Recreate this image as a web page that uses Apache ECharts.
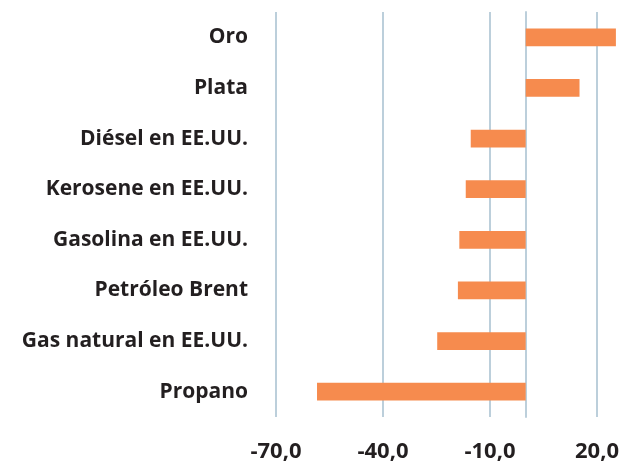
<!DOCTYPE html>
<html>
<head>
<meta charset="utf-8">
<script src="https://cdn.jsdelivr.net/npm/echarts@6/dist/echarts.min.js"></script>
<style>
  html, body { margin: 0; padding: 0; background: #fff; }
  #chart { width: 620px; height: 462px; }
</style>
</head>
<body>
<div id="chart"></div>
<script>
// categorías, de arriba a abajo
const categories = [
  'Oro',
  'Plata',
  'Diésel en EE.UU.',
  'Kerosene en EE.UU.',
  'Gasolina en EE.UU.',
  'Petróleo Brent',
  'Gas natural en EE.UU.',
  'Propano',
]
// variación (%)
const values = [25.3, 15.1, -15.4, -16.8, -18.6, -19.0, -24.8, -58.5]
const xTicks = [-70, -40, -10, 20]

const gridColor = '#bccfdb'
const textColor = '#231f20'
const font = '"Open Sans"'

const chart = echarts.init(document.getElementById('chart'))
chart.setOption({
  animation: false,
  grid: {
    left: 276, right: 23, top: 12, bottom: 45,
    containLabel: false,
    outerBoundsMode: 'none',
  },
  xAxis: {
    type: 'value',
    min: xTicks[0],
    max: xTicks[xTicks.length - 1],
    interval: 30,
    axisLine: { show: false },
    axisTick: { show: false },
    splitLine: { show: true, lineStyle: { color: gridColor, width: 2 } },
    axisLabel: {
      margin: 24,
      color: textColor,
      fontFamily: font,
      fontWeight: 'bold',
      fontSize: 22,
      formatter: (v) => v.toFixed(1).replace('.', ','),
    },
  },
  yAxis: {
    type: 'category',
    data: categories,
    inverse: true,
    axisLine: { show: true, onZero: true, lineStyle: { color: gridColor, width: 2 } },
    axisTick: { show: false },
    axisLabel: {
      margin: 28,
      color: textColor,
      fontFamily: font,
      fontWeight: 'bold',
      fontSize: 21,
      padding: [4, 0, 0, 0],
    },
  },
  series: [
    {
      type: 'bar',
      data: values,
      barWidth: '35%',
      clip: false,
      itemStyle: { color: '#f68b4e' },
    },
  ],
})
</script>
</body>
</html>
